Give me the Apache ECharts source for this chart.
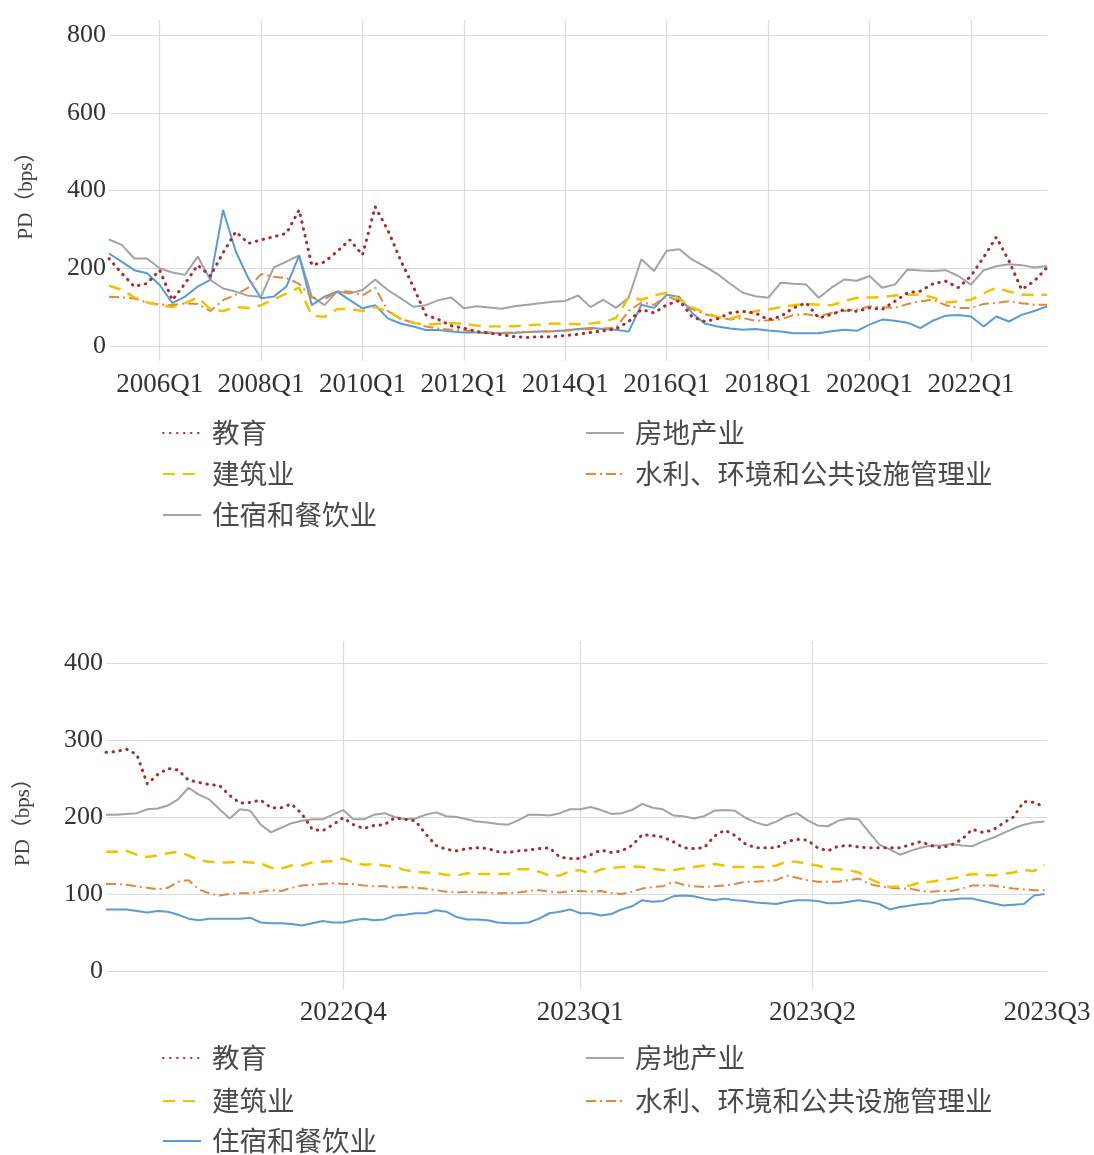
<!DOCTYPE html>
<html><head><meta charset="utf-8">
<script src="https://cdn.jsdelivr.net/npm/echarts@6/dist/echarts.min.js"></script>
<style>
html,body{margin:0;padding:0;background:#fff;}
#c1{position:absolute;left:0;top:0;width:1094px;height:560px;}
#c2{position:absolute;left:0;top:560px;width:1094px;height:595px;}
</style>
</head><body><div id="c1"></div><div id="c2"></div>
<script>
// ---------- names ----------
const NAME_EDU = '教育';
const NAME_RE = '房地产业';
const NAME_CON = '建筑业';
const NAME_WAT = '水利、环境和公共设施管理业';
const NAME_HOT = '住宿和餐饮业';

// ---------- top chart: quarterly 2005Q1 .. 2023Q3 ----------
const quarterLabels = [];
for (let y = 2005; y <= 2023; y++) for (let q = 1; q <= 4; q++) { if (y === 2023 && q > 3) break; quarterLabels.push(y + 'Q' + q); }

const topEdu = [225,187,153,161,195,118,161,208,180,240,294,264,273,281,290,350,208,216,243,273,234,358,298,221,153,80,68,52,46,37,33,29,24,22,24,24,27,30,35,39,44,63,94,85,106,117,75,63,70,85,89,85,68,76,98,111,72,81,94,89,98,94,115,137,141,160,167,150,180,228,280,219,145,167,202];
const topRE = [274,260,225,225,200,189,183,230,170,148,140,129,127,202,217,233,127,105,140,135,144,171,144,123,101,105,118,125,97,102,99,96,102,106,110,114,116,130,100,119,98,124,223,193,245,249,222,205,185,160,137,128,124,163,160,158,124,150,171,168,180,150,158,197,194,193,195,180,158,195,205,210,208,202,206];
const topCon = [155,145,125,112,105,100,110,125,95,90,100,98,105,120,135,150,78,75,95,95,90,100,90,70,60,55,57,59,57,53,51,50,51,53,55,58,57,56,58,62,72,125,119,130,137,120,100,85,75,70,80,90,94,100,105,108,106,105,115,124,125,126,130,132,132,125,112,115,119,135,150,140,132,132,132];
const topWat = [127,125,122,112,107,105,110,108,90,118,132,150,185,178,175,160,125,120,140,140,130,150,90,70,60,50,45,42,40,38,35,34,35,36,37,38,40,42,44,45,47,90,112,106,128,115,95,82,75,68,72,65,66,68,80,82,76,85,90,94,102,100,98,108,115,119,105,98,98,108,111,115,110,106,106];
const topHot = [238,217,195,187,157,110,127,153,170,350,243,174,123,127,153,233,105,127,140,118,97,105,71,58,50,41,41,37,35,35,33,33,34,36,37,38,40,44,46,44,42,37,106,98,132,126,85,58,50,45,42,44,40,37,33,33,33,38,42,39,55,68,65,60,46,65,78,80,76,50,76,63,80,90,102];
const topYTicks = [0, 200, 400, 600, 800];

// ---------- bottom chart: daily axis 2022-07-01 .. 2023-07-01, values sampled every 4 days ----------
const dayLabels = [];
(function(){ const t0 = Date.UTC(2022,6,1); for (let i = 0; i <= 365; i++) { const d = new Date(t0 + i*86400000); dayLabels.push(d.getUTCFullYear()+'-'+String(d.getUTCMonth()+1).padStart(2,'0')+'-'+String(d.getUTCDate()).padStart(2,'0')); } })();
const sampleDay = []; for (let i = 0; i <= 364; i += 4) sampleDay.push(i);

const botEdu = [284,285,288,281,243,255,263,261,248,245,242,241,228,218,219,222,212,212,217,204,184,182,190,199,190,185,189,190,199,197,195,
  178,163,158,156,159,160,159,155,154,156,157,159,160,148,146,146,151,157,154,156,163,177,176,174,168,160,159,160,175,183,
  176,165,160,160,160,168,171,170,160,156,162,163,161,160,160,160,160,164,168,163,160,164,171,184,180,183,192,200,220,219,213];
const botRE = [203,203,204,205,210,211,215,223,238,229,223,210,198,210,208,190,180,186,192,195,197,197,203,209,197,197,203,205,200,197,198,
  203,206,201,200,197,194,193,191,190,196,203,203,202,205,210,210,213,209,204,205,209,217,212,210,202,201,198,201,208,209,
  208,199,193,189,194,201,205,196,189,188,195,198,197,180,164,158,151,156,160,163,163,165,163,162,168,173,179,185,190,193,194];
const botCon = [155,155,156,151,148,150,153,155,150,144,142,141,141,142,141,140,134,133,137,137,141,142,143,146,141,138,139,137,135,131,129,
  128,127,125,124,127,126,126,126,126,132,132,129,124,124,130,131,126,132,134,135,136,135,133,131,131,133,135,137,139,137,
  135,135,135,135,137,142,142,139,137,133,132,131,128,120,114,109,110,111,115,116,118,120,123,126,125,124,126,128,131,130,138];
const botWat = [113,113,112,110,108,106,108,116,118,106,101,98,100,101,101,103,105,104,108,111,112,113,114,113,113,111,110,110,108,109,108,
  107,105,103,102,103,102,102,101,101,102,104,105,103,102,104,104,103,104,101,100,103,107,109,110,116,112,110,109,110,111,
  113,116,116,117,118,124,121,118,116,116,116,118,120,113,110,108,107,107,104,103,104,104,107,111,111,111,109,107,106,105,105];
const botHot = [80,80,80,78,76,78,77,73,68,66,68,68,68,68,69,63,62,62,61,59,62,65,63,63,66,68,66,67,72,73,75,
  75,79,77,70,67,67,66,63,62,62,63,68,75,77,80,75,75,72,74,80,84,92,90,91,97,98,97,94,92,94,
  92,91,89,88,87,90,92,92,91,88,88,90,92,90,87,80,83,85,87,88,92,93,94,94,91,88,85,86,87,98,100];
const botYTicks = [0, 100, 200, 300, 400];

// ---------- styles ----------
const GRID = '#dcdcdc';
const LABEL_FONT = 'Liberation Serif';
const CJK_FONT = 'Noto Sans CJK SC';
const styleOf = {
  [NAME_EDU]: { color: '#a3302a', type: [0.5, 6.5], width: 3, cap: 'round' },
  [NAME_RE]:  { color: '#a3a3a3', type: 'solid', width: 2 },
  [NAME_CON]: { color: '#f2c200', type: [12, 8], width: 2.5 },
  [NAME_WAT]: { color: '#e5863c', type: [10, 4, 2, 4], width: 2 },
  [NAME_HOT]: { color: '#5b9bd5', type: 'solid', width: 2 }
};

function mkSeries(name, data) {
  const s = styleOf[name];
  return { name, type: 'line', data, showSymbol: false, symbol: 'none', smooth: false,
    color: s.color, lineStyle: { color: s.color, width: s.width, type: s.type, cap: s.cap || 'butt' }, animation: false };
}

function mkLegends(rows, overrides) {
  const pos = [
    { name: NAME_EDU, left: 162, row: 0 },
    { name: NAME_RE,  left: 585, row: 0 },
    { name: NAME_CON, left: 162, row: 1 },
    { name: NAME_WAT, left: 585, row: 1 },
    { name: NAME_HOT, left: 162, row: 2 }
  ];
  return pos.map(p => ({
    data: [Object.assign({ name: p.name }, (overrides && overrides[p.name]) || {})],
    left: p.left, top: rows[p.row], itemWidth: 38, itemHeight: 14, padding: 0,
    selectedMode: false,
    itemStyle: { opacity: 0 },
    textStyle: { fontFamily: CJK_FONT, fontSize: 27.5, color: '#4a4a4a', lineHeight: 30, padding: [0, 0, 0, 6] }
  }));
}

function yAxisOf(ticks) {
  return {
    type: 'value', min: ticks[0], max: ticks[ticks.length - 1], interval: ticks[1] - ticks[0],
    name: 'PD（bps）', nameLocation: 'middle', nameGap: 72,
    nameTextStyle: { fontFamily: LABEL_FONT + ',' + CJK_FONT, fontSize: 21, color: '#444' },
    axisLine: { show: false }, axisTick: { show: false },
    axisLabel: { fontFamily: LABEL_FONT, fontSize: 26, color: '#333', margin: 3 },
    splitLine: { show: true, lineStyle: { color: GRID, width: 1.2 } }
  };
}

// ---------- chart 1 ----------
const topTickFn = (i) => i % 8 === 4;
const c1 = echarts.init(document.getElementById('c1'));
c1.setOption({
  backgroundColor: '#fff', animation: false,
  grid: { left: 109, right: 47, top: 35, height: 311 },
  xAxis: [{
    type: 'category', data: quarterLabels, boundaryGap: false,
    axisLine: { show: false },
    axisTick: { show: true, interval: topTickFn, length: 15, lineStyle: { color: GRID, width: 1.2 } },
    axisLabel: { interval: topTickFn, fontFamily: LABEL_FONT, fontSize: 27, color: '#333', margin: 25 },
    splitLine: { show: true, interval: topTickFn, lineStyle: { color: GRID, width: 1.2 } }
  }, {
    type: 'category', data: quarterLabels, boundaryGap: false, position: 'top',
    axisLine: { show: false }, axisLabel: { show: false }, splitLine: { show: false },
    axisTick: { show: true, interval: topTickFn, length: 15, lineStyle: { color: GRID, width: 1.2 } }
  }],
  yAxis: yAxisOf(topYTicks),
  legend: mkLegends([418, 459, 500], { [NAME_HOT]: { lineStyle: { color: '#a3a3a3' } } }),
  series: [
    mkSeries(NAME_RE, topRE),
    mkSeries(NAME_HOT, topHot),
    mkSeries(NAME_WAT, topWat),
    mkSeries(NAME_CON, topCon),
    mkSeries(NAME_EDU, topEdu)
  ]
});

// ---------- chart 2 ----------
function isQuarterStart(i) {
  const v = dayLabels[i];
  const m = +v.slice(5, 7);
  return i > 0 && v.slice(8) === '01' && (m === 1 || m === 4 || m === 7 || m === 10);
}
const botLabelFn = (i) => isQuarterStart(i);
const botLineFn = (i) => isQuarterStart(i) && i < dayLabels.length - 1;
const pairs = (vals) => sampleDay.map((d, k) => [d, vals[k]]);

const c2 = echarts.init(document.getElementById('c2'));
c2.setOption({
  backgroundColor: '#fff', animation: false,
  grid: { left: 106, right: 47, top: 103, height: 308 },
  xAxis: [{
    type: 'category', data: dayLabels, boundaryGap: false,
    axisLine: { show: false },
    axisTick: { show: true, interval: botLineFn, length: 18, lineStyle: { color: GRID, width: 1.2 } },
    axisLabel: { interval: botLabelFn, showMaxLabel: true, fontFamily: LABEL_FONT, fontSize: 27, color: '#333', margin: 28,
      formatter: (v) => { const y = v.slice(0, 4), m = +v.slice(5, 7); return y + 'Q' + ((m - 1) / 3 + 1); } },
    splitLine: { show: true, interval: botLineFn, lineStyle: { color: GRID, width: 1.2 } }
  }, {
    type: 'category', data: dayLabels, boundaryGap: false, position: 'top',
    axisLine: { show: false }, axisLabel: { show: false }, splitLine: { show: false },
    axisTick: { show: true, interval: botLineFn, length: 22, lineStyle: { color: GRID, width: 1.2 } }
  }],
  yAxis: yAxisOf(botYTicks),
  legend: mkLegends([483, 526, 566]),
  series: [
    mkSeries(NAME_RE, pairs(botRE)),
    mkSeries(NAME_HOT, pairs(botHot)),
    mkSeries(NAME_WAT, pairs(botWat)),
    mkSeries(NAME_CON, pairs(botCon)),
    mkSeries(NAME_EDU, pairs(botEdu))
  ]
});
</script>
</body></html>
